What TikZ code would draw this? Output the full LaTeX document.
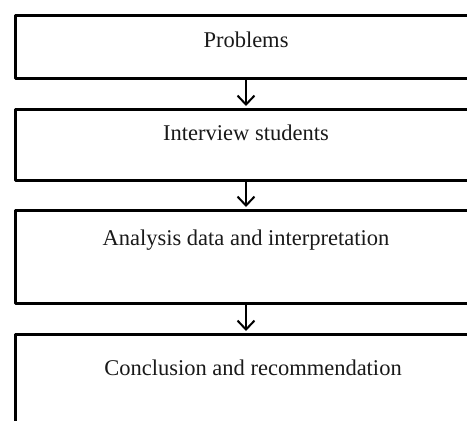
\documentclass[tikz,border=0pt]{standalone}
\usepackage{fontspec}
\setmainfont{Liberation Serif}
\usetikzlibrary{arrows.meta}
\begin{document}
\begin{tikzpicture}[x=1pt,y=1pt,
  stagebox/.style={draw=black, line width=3pt, line cap=round, line join=round, rectangle, inner sep=0pt, anchor=north west, minimum width=480pt},
  label/.style={font=\fontsize{22.5}{26}\selectfont, text=black!90, inner sep=0pt},
  flow/.style={draw=black, line width=2pt, -{Straight Barb[length=9pt,width=17pt,line width=2pt]}}]
\useasboundingbox (0,0) rectangle (467,-421);
\clip (0,0) rectangle (467,-421);
\node[stagebox, minimum height=63pt] (b1) at (14,-14) {};
\node[stagebox, minimum height=71pt] (b2) at (14,-108) {};
\node[stagebox, minimum height=93pt] (b3) at (14,-209) {};
\node[stagebox, minimum height=120pt] (b4) at (14,-333) {};
\node[label] (t1) at (246,-40) {Problems};
\node[label] (t2) at (246,-133) {Interview students};
\node[label] (t3) at (246,-240) {Analysis data and interpretation};
\node[label] (t4) at (253,-368) {Conclusion and recommendation};
\coordinate (a1s) at (246,-77); \coordinate (a1e) at (246,-106);
\coordinate (a2s) at (246,-179); \coordinate (a2e) at (246,-207);
\coordinate (a3s) at (246,-302); \coordinate (a3e) at (246,-331);
\draw[flow] (a1s) -- (a1e);
\draw[flow] (a2s) -- (a2e);
\draw[flow] (a3s) -- (a3e);
\end{tikzpicture}
\end{document}
